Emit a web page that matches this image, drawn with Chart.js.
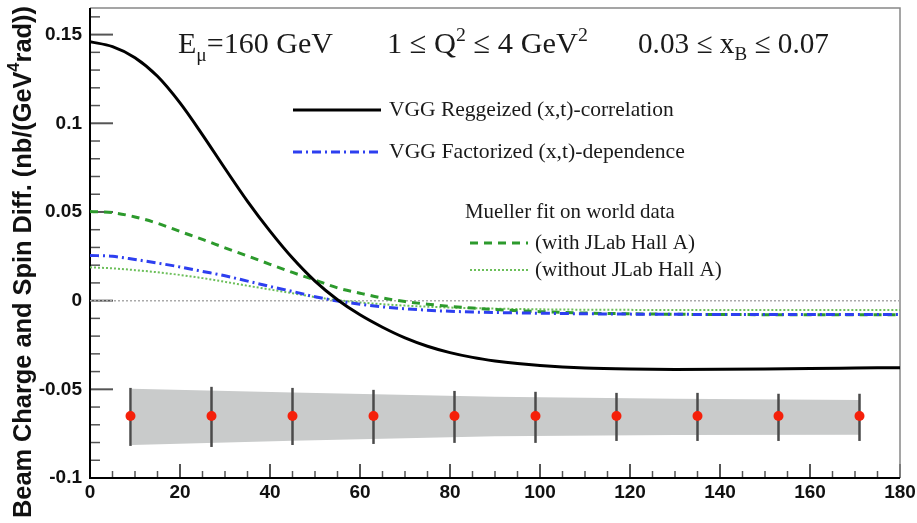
<!DOCTYPE html>
<html>
<head>
<meta charset="utf-8">
<script src="https://cdn.jsdelivr.net/npm/chart.js@4.4.0/dist/chart.umd.min.js"></script>
<style>
html, body { margin: 0; padding: 0; background: #fff; }
</style>
</head>
<body>
<canvas id="chart" width="917" height="523"></canvas>
<script>
// phi (deg) grid used by the model curves
var curveX = [0, 5, 10, 15, 20, 25, 30, 35, 40, 45, 50, 55, 60, 65, 70, 75, 80, 85, 90, 95, 100, 110, 120, 130, 140, 150, 160, 170, 180];
var vggReggeized = [0.146, 0.1432, 0.1370, 0.1265, 0.1115, 0.0935, 0.0745, 0.0560, 0.0392, 0.0240, 0.0110, 0.0005, -0.0080, -0.0150, -0.0210, -0.0257, -0.0293, -0.0320, -0.0340, -0.0355, -0.0366, -0.0380, -0.0386, -0.0388, -0.0387, -0.0385, -0.0382, -0.0380, -0.0378];
var vggFactorized = [0.0255, 0.0250, 0.0232, 0.0212, 0.0190, 0.0165, 0.0140, 0.0110, 0.0080, 0.0052, 0.0022, -0.0002, -0.0020, -0.0035, -0.0046, -0.0054, -0.0060, -0.0064, -0.0067, -0.0069, -0.0071, -0.0074, -0.0076, -0.0077, -0.0078, -0.0078, -0.0078, -0.0078, -0.0078];
var muellerWithHallA = [0.0503, 0.0496, 0.0472, 0.0436, 0.0390, 0.0345, 0.0298, 0.0252, 0.0205, 0.0159, 0.0116, 0.0072, 0.0042, 0.0015, -0.0005, -0.0020, -0.0032, -0.0042, -0.0050, -0.0057, -0.0062, -0.0070, -0.0074, -0.0077, -0.0078, -0.0079, -0.0079, -0.0080, -0.0080];
var muellerWithoutHallA = [0.0188, 0.0182, 0.0172, 0.0160, 0.0145, 0.0127, 0.0106, 0.0084, 0.0063, 0.0042, 0.0020, 0.0003, -0.0010, -0.0020, -0.0028, -0.0034, -0.0039, -0.0042, -0.0045, -0.0047, -0.0049, -0.0051, -0.0052, -0.0053, -0.0053, -0.0053, -0.0053, -0.0053, -0.0053];

// projected measurement points with error bars
var pointX = [9, 27, 45, 63, 81, 99, 117, 135, 153, 171];
var pointY = [-0.065, -0.065, -0.065, -0.065, -0.065, -0.065, -0.065, -0.065, -0.065, -0.065];
var errHigh = [-0.0492, -0.0486, -0.0492, -0.0503, -0.0509, -0.0514, -0.0520, -0.0520, -0.0525, -0.0525];
var errLow = [-0.0819, -0.0825, -0.0814, -0.0808, -0.0802, -0.0802, -0.0791, -0.0791, -0.0791, -0.0791];

// grey systematic band
var bandX = [9.3, 45, 90, 130, 171];
var bandTop = [-0.0497, -0.0518, -0.0542, -0.0553, -0.0560];
var bandBottom = [-0.0814, -0.0790, -0.0765, -0.0758, -0.0756];

var zeroX = [0, 180];
var zeroY = [0, 0];

var xTicks = [0, 20, 40, 60, 80, 100, 120, 140, 160, 180];
var yTicks = [-0.1, -0.05, 0, 0.05, 0.1, 0.15];

var yTitle = [{t: 'Beam Charge and Spin Diff. (nb/(GeV'}, {t: '4', sup: true}, {t: 'rad))'}];
var legendNames = ['VGG Reggeized (x,t)-correlation', 'VGG Factorized (x,t)-dependence', 'Mueller fit on world data', '(with JLab Hall A)', '(without JLab Hall A)'];

function pts(xs, ys) {
    return xs.map(function(x, i) { return {x: x, y: ys[i]}; });
}

function drawRich(c, parts, x, y, width, family, weight) {
    function fontFor(p, size) {
        return weight + ' ' + (p.sub || p.sup ? size * 0.65 : size) + 'px ' + family;
    }
    var w = 0;
    parts.forEach(function(p) { c.font = fontFor(p, 100); w += c.measureText(p.t).width; });
    var size = 100 * width / w;
    var cx = x;
    c.textAlign = 'left';
    parts.forEach(function(p) {
        c.font = fontFor(p, size);
        var dy = p.sub ? size * 0.25 : (p.sup ? -size * 0.38 : 0);
        c.fillText(p.t, cx, y + dy);
        cx += c.measureText(p.t).width;
    });
}

function legendLine(c, x1, x2, y, color, width, dash) {
    c.save();
    c.strokeStyle = color;
    c.lineWidth = width;
    c.setLineDash(dash);
    c.beginPath();
    c.moveTo(x1, y);
    c.lineTo(x2, y);
    c.stroke();
    c.restore();
}

var decorPlugin = {
    id: 'decor',
    beforeDatasetsDraw: function(chart) {
        var c = chart.ctx, a = chart.chartArea, xs = chart.scales.x, ys = chart.scales.y;
        c.save();
        // ROOT style inner ticks
        c.strokeStyle = '#555';
        for (var v = -10; v <= 16; v++) {
            var py = ys.getPixelForValue(v / 100);
            var major = v % 5 === 0;
            c.lineWidth = major ? 2 : 1.5;
            c.beginPath();
            c.moveTo(a.left, py);
            c.lineTo(a.left + (major ? 23 : 10), py);
            c.stroke();
        }
        for (var d = 0; d <= 180; d += 5) {
            var px = xs.getPixelForValue(d);
            var maj = d % 20 === 0;
            c.lineWidth = maj ? 2 : 1.5;
            c.beginPath();
            c.moveTo(px, a.bottom);
            c.lineTo(px, a.bottom - (maj ? 14 : 7));
            c.stroke();
        }
        // frame
        c.strokeStyle = '#888';
        c.lineWidth = 1.5;
        c.beginPath();
        c.moveTo(a.left, a.top);
        c.lineTo(a.right, a.top);
        c.lineTo(a.right, a.bottom);
        c.stroke();
        c.strokeStyle = '#000';
        c.lineWidth = 2;
        c.beginPath();
        c.moveTo(a.left, a.top);
        c.lineTo(a.left, a.bottom);
        c.lineTo(a.right, a.bottom);
        c.stroke();
        c.restore();
    },
    beforeDatasetDraw: function(chart, args) {
        if (args.index !== 0) return;
        var c = chart.ctx, xs = chart.scales.x, ys = chart.scales.y;
        c.save();
        c.strokeStyle = '#4a4a4a';
        c.lineWidth = 2.5;
        pointX.forEach(function(x, i) {
            var px = xs.getPixelForValue(x);
            c.beginPath();
            c.moveTo(px, ys.getPixelForValue(errHigh[i]));
            c.lineTo(px, ys.getPixelForValue(errLow[i]));
            c.stroke();
        });
        c.restore();
    },
    afterDraw: function(chart) {
        var c = chart.ctx;
        c.save();
        c.fillStyle = '#1a1a1a';
        c.textBaseline = 'alphabetic';
        var serif = '"Liberation Serif", "Times New Roman", serif';
        drawRich(c, [{t: 'E'}, {t: '\u03bc', sub: true}, {t: '=160 GeV'}], 178, 53, 155, serif, 'normal');
        drawRich(c, [{t: '1 \u2264 Q'}, {t: '2', sup: true}, {t: ' \u2264 4 GeV'}, {t: '2', sup: true}], 387, 53, 201, serif, 'normal');
        drawRich(c, [{t: '0.03 \u2264 x'}, {t: 'B', sub: true}, {t: ' \u2264 0.07'}], 638, 53, 191, serif, 'normal');

        c.textBaseline = 'middle';
        drawRich(c, [{t: legendNames[0]}], 389, 110, 285, serif, 'normal');
        drawRich(c, [{t: legendNames[1]}], 389, 152, 296, serif, 'normal');
        drawRich(c, [{t: legendNames[2]}], 465, 213, 210, serif, 'normal');
        drawRich(c, [{t: legendNames[3]}], 535, 243, 160, serif, 'normal');
        drawRich(c, [{t: legendNames[4]}], 535, 270, 187, serif, 'normal');

        legendLine(c, 293, 381, 110, '#000', 3, []);
        legendLine(c, 293, 381, 152, '#2d3ff0', 3, [9, 4, 2, 4]);
        legendLine(c, 470, 528, 243, '#2c9a2c', 3, [8, 6]);
        legendLine(c, 470, 528, 270, '#6cbf5a', 2, [2, 2]);

        // y axis title
        c.fillStyle = '#111';
        c.translate(24, 262);
        c.rotate(-Math.PI / 2);
        drawRich(c, yTitle, -256, 0, 512, 'Arial, "Liberation Sans", sans-serif', 'bold');
        c.restore();
    }
};

var ctx = document.getElementById('chart').getContext('2d');
new Chart(ctx, {
    type: 'line',
    data: {
        datasets: [{
            label: 'data',
            data: pts(pointX, pointY),
            showLine: false,
            pointRadius: 5,
            pointBackgroundColor: '#f5200a',
            pointBorderWidth: 0,
            pointBorderColor: '#f5200a',
            order: 0
        }, {
            label: legendNames[0],
            data: pts(curveX, vggReggeized),
            borderColor: '#000',
            borderWidth: 3,
            pointRadius: 0,
            cubicInterpolationMode: 'monotone',
            order: 1
        }, {
            label: legendNames[1],
            data: pts(curveX, vggFactorized),
            borderColor: '#2d3ff0',
            borderWidth: 3,
            borderDash: [9, 4, 2, 4],
            pointRadius: 0,
            cubicInterpolationMode: 'monotone',
            order: 2
        }, {
            label: legendNames[3],
            data: pts(curveX, muellerWithHallA),
            borderColor: '#2c9a2c',
            borderWidth: 3,
            borderDash: [8, 6],
            pointRadius: 0,
            cubicInterpolationMode: 'monotone',
            order: 3
        }, {
            label: legendNames[4],
            data: pts(curveX, muellerWithoutHallA),
            borderColor: '#6cbf5a',
            borderWidth: 2,
            borderDash: [2, 2],
            pointRadius: 0,
            cubicInterpolationMode: 'monotone',
            order: 4
        }, {
            label: 'zero',
            data: pts(zeroX, zeroY),
            borderColor: '#aaa',
            borderWidth: 1.5,
            borderDash: [2, 2],
            pointRadius: 0,
            order: 5
        }, {
            label: 'band top',
            data: pts(bandX, bandTop),
            borderColor: 'rgba(0,0,0,0)',
            backgroundColor: '#c9cbcb',
            pointRadius: 0,
            tension: 0,
            fill: '+1',
            order: 10
        }, {
            label: 'band bottom',
            data: pts(bandX, bandBottom),
            borderColor: 'rgba(0,0,0,0)',
            pointRadius: 0,
            tension: 0,
            fill: false,
            order: 11
        }]
    },
    options: {
        responsive: false,
        animation: false,
        layout: { padding: { top: 8, right: 17, left: 0, bottom: 0 } },
        plugins: {
            legend: { display: false },
            tooltip: { enabled: false }
        },
        scales: {
            x: {
                type: 'linear',
                min: 0,
                max: 180,
                grid: { display: false, drawTicks: false },
                border: { display: false },
                ticks: {
                    color: '#111',
                    font: { family: 'Arial', weight: 'bold', size: 19 },
                    padding: 3,
                    maxRotation: 0,
                    autoSkip: false
                },
                afterBuildTicks: function(s) { s.ticks = xTicks.map(function(v) { return {value: v}; }); },
                afterFit: function(s) { s.height = 45; s.paddingLeft = 0; s.paddingRight = 0; }
            },
            y: {
                type: 'linear',
                min: -0.1,
                max: 0.165,
                grid: { display: false, drawTicks: false },
                border: { display: false },
                ticks: {
                    color: '#111',
                    font: { family: 'Arial', weight: 'bold', size: 19 },
                    padding: 8,
                    callback: function(v) { return String(+v.toFixed(2)); }
                },
                afterBuildTicks: function(s) { s.ticks = yTicks.map(function(v) { return {value: v}; }); },
                afterFit: function(s) { s.width = 90; s.paddingTop = 0; s.paddingBottom = 0; }
            }
        }
    },
    plugins: [decorPlugin]
});
</script>
</body>
</html>
